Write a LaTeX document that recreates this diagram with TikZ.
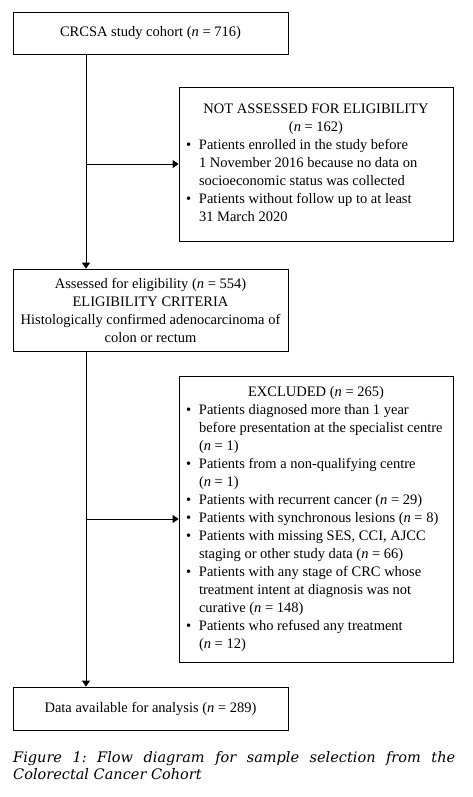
\documentclass[tikz,border=0pt]{standalone}
\usepackage{fontspec}
\setmainfont{Liberation Serif}
\newfontfamily\capfont{DejaVu Serif}
\usepackage{array}
\usetikzlibrary{arrows.meta}
\frenchspacing

\begin{document}
\begin{tikzpicture}[x=1pt, y=-1pt,
          box/.style={rectangle, draw, line width=0.8pt, minimum width=275pt,
                      font=\fontsize{14.5}{18}\selectfont, align=center,
                      inner sep=0pt},
          sidebox/.style={rectangle, draw, line width=0.8pt, minimum width=274pt,
                          font=\fontsize{14.5}{18}\selectfont, inner sep=0pt},
          arr/.style={-{Triangle[length=6pt, width=8pt]}, line width=0.8pt}
        ]
        \useasboundingbox (0,0) rectangle (473,797);

        % Main flow
        \node[box, minimum height=42pt] (cohort) at (150.5, 33)
              {CRCSA study cohort (\textit{n} = 716)};
        \node[box, minimum height=82pt] (assessed) at (150.5, 310)
              {Assessed for eligibility (\textit{n} = 554)\\
               ELIGIBILITY CRITERIA\\
               Histologically confirmed adenocarcinoma of\\
               colon or rectum};
        \node[box, minimum height=43pt] (analysis) at (150.5, 708.5)
              {Data available for analysis (\textit{n} = 289)};

        % Side boxes
        \node[sidebox, minimum height=154pt] (notassessed) at (316, 164)
              {\begin{tabular}{@{}p{13pt}@{}p{247pt}@{}}
               \multicolumn{2}{c}{NOT ASSESSED FOR ELIGIBILITY}\\
               \multicolumn{2}{c}{(\textit{n} = 162)}\\
               \textbullet & Patients enrolled in the study before\\
                           & 1 November 2016 because no data on\\
                           & socioeconomic status was collected\\
               \textbullet & Patients without follow up to at least\\
                           & 31 March 2020
               \end{tabular}};
        \node[sidebox, minimum height=286pt] (excluded) at (316, 519)
              {\begin{tabular}{@{}p{13pt}@{}p{247pt}@{}}
               \multicolumn{2}{c}{EXCLUDED (\textit{n} = 265)}\\
               \textbullet & Patients diagnosed more than 1 year\\
                           & before presentation at the specialist centre\\
                           & (\textit{n} = 1)\\
               \textbullet & Patients from a non-qualifying centre\\
                           & (\textit{n} = 1)\\
               \textbullet & Patients with recurrent cancer (\textit{n} = 29)\\
               \textbullet & Patients with synchronous lesions (\textit{n} = 8)\\
               \textbullet & Patients with missing SES, CCI, AJCC\\
                           & staging or other study data (\textit{n} = 66)\\
               \textbullet & Patients with any stage of CRC whose\\
                           & treatment intent at diagnosis was not\\
                           & curative (\textit{n} = 148)\\
               \textbullet & Patients who refused any treatment\\
                           & (\textit{n} = 12)
               \end{tabular}};

        % Arrows
        \coordinate (spine) at (86, 0);
        \draw[arr] (cohort.south -| spine) -- (assessed.north -| spine);
        \draw[arr] (assessed.south -| spine) -- (analysis.north -| spine);
        \draw[arr] (notassessed.west -| spine) -- (notassessed.west);
        \draw[arr] (excluded.west -| spine) -- (excluded.west);

        % Caption
        \node[anchor=north west, text width=442pt, align=justify, inner sep=0pt,
              font=\capfont\itshape\fontsize{14.5}{17}\selectfont] (caption) at (13, 751)
              {Figure 1: Flow diagram for sample selection from the\linebreak
               Colorectal Cancer Cohort};
      \end{tikzpicture}
\end{document}
